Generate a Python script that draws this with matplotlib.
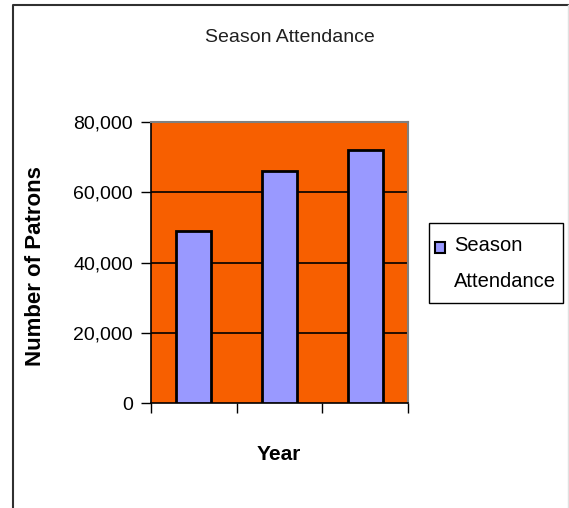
import matplotlib
matplotlib.use("Agg")
import matplotlib.pyplot as plt
from matplotlib.patches import Rectangle, Patch
from matplotlib.lines import Line2D
from matplotlib.legend_handler import HandlerPatch

categories = ["Year 1", "Year 2", "Year 3"]
attendance = [49000, 66000, 72000]
yticks = [0, 20000, 40000, 60000, 80000]
ytick_labels = ["0", "20,000", "40,000", "60,000", "80,000"]

plt.rcParams['font.family'] = ['Liberation Sans', 'DejaVu Sans']

W, H = 569, 508
fig = plt.figure(figsize=(W / 100, H / 100), dpi=100)
fig.patch.set_facecolor("white")

# figure border
fig.add_artist(Line2D([13 / W, 13 / W, 568 / W], [0, 1 - 5 / H, 1 - 5 / H],
                      transform=fig.transFigure, color="#303030", linewidth=1.5))
fig.add_artist(Line2D([568 / W, 568 / W], [1 - 5 / H, 0],
                      transform=fig.transFigure, color="#e0e0e0", linewidth=1))

left, right, top, bottom = 151, 408, 122, 403
ax = fig.add_axes([left / W, 1 - bottom / H, (right - left) / W, (bottom - top) / H])
ax.set_facecolor("#F75F00")

x = list(range(len(categories)))
ax.bar(x, attendance, width=0.41, color="#9999FF", edgecolor="black",
       linewidth=2, zorder=3, label="Season Attendance")

ax.set_xlim(-0.5, len(categories) - 0.5)
ax.set_ylim(0, 80000)
ax.set_yticks(yticks)
ax.set_yticklabels(ytick_labels, fontsize=14)
ax.set_xticks([i - 0.5 for i in range(len(categories) + 1)])
ax.set_xticklabels([])
ax.tick_params(axis="both", direction="out", length=7, width=1, color="black")
ax.tick_params(axis="y", pad=6)
for v in yticks[1:-1]:
    ax.axhline(v, color="black", linewidth=1.2, zorder=1)

ax.spines["left"].set_color("black")
ax.spines["bottom"].set_color("black")
ax.spines["left"].set_linewidth(1.2)
ax.spines["bottom"].set_linewidth(1.2)
ax.spines["top"].set_color("#808080")
ax.spines["right"].set_color("#808080")
ax.spines["top"].set_linewidth(1.5)
ax.spines["right"].set_linewidth(1.5)

fig.text(290 / W, 1 - 37 / H, "Season Attendance", ha="center", va="center",
         fontsize=14, color="#202020")
fig.text(36 / W, 1 - 266 / H, "Number of Patrons", ha="center", va="center",
         rotation=90, fontsize=16, fontweight="bold")
fig.text(279 / W, 1 - 454 / H, "Year", ha="center", va="center",
         fontsize=15, fontweight="bold")

# legend frame
fig.add_artist(Rectangle((429 / W, 1 - 303 / H), (563 - 429) / W, 80 / H,
                         transform=fig.transFigure, facecolor="white",
                         edgecolor="black", linewidth=1, zorder=2))


def top_patch(legend, orig_handle, xdescent, ydescent, width, height, fontsize):
    return Rectangle((-xdescent, -ydescent + 12), width, height)


handle = Patch(facecolor="#9999FF", edgecolor="black", linewidth=1.5)
leg = fig.legend([handle], ["Season\nAttendance"], loc="upper left",
                 bbox_to_anchor=(435 / W, 1 - 236 / H), fontsize=14.5,
                 frameon=False, handlelength=0.5,
                 handleheight=0.5, handletextpad=0.45, borderpad=0,
                 borderaxespad=0,
                 handler_map={Patch: HandlerPatch(patch_func=top_patch)})
leg.set_zorder(3)
leg.get_texts()[0].set_linespacing(2.15)

fig.savefig("out.png", dpi=100)
